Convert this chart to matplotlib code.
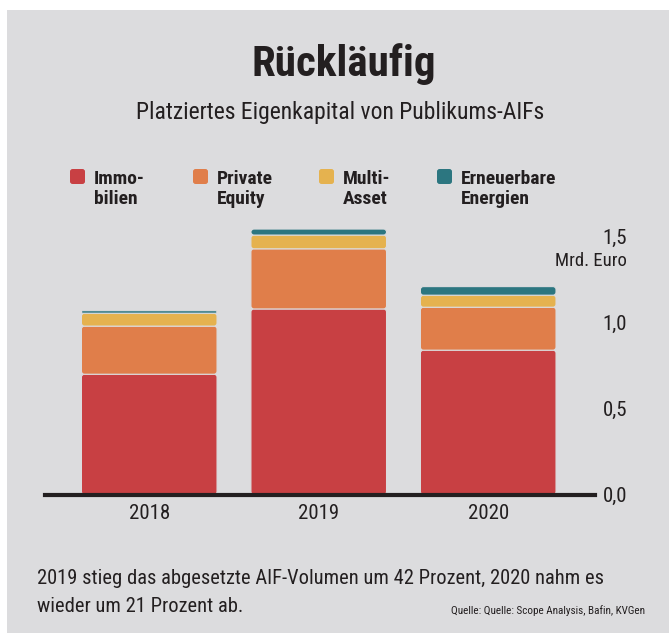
import matplotlib.pyplot as plt
from matplotlib.patches import Rectangle, FancyBboxPatch
import numpy as np

# data (Mrd. Euro)
years = ["2018", "2019", "2020"]
immobilien = [0.70, 1.08, 0.84]
private_equity = [0.28, 0.35, 0.25]
multi_asset = [0.075, 0.08, 0.07]
erneuerbare = [0.015, 0.035, 0.05]

series_names = ["Immo-\nbilien", "Private\nEquity", "Multi-\nAsset", "Erneuerbare\nEnergien"]
series_colors = ["#C84043", "#E07E4A", "#E5B24F", "#2C7680"]
yticks = [0.0, 0.5, 1.0, 1.5]
ytick_labels = ["0,0", "0,5", "1,0", "1,5"]

BG = "#DCDCDE"
TXT = "#231F20"
W, H = 669, 634

plt.rcParams['font.family'] = ['Roboto Condensed', 'Liberation Sans Narrow',
                               'DejaVu Sans Condensed', 'Roboto', 'DejaVu Sans']
plt.rcParams['font.stretch'] = 'condensed'


def fx(px):
    return px / W


def fy(py):
    return 1 - py / H


def round_bars(ax, bars, aspect, r):
    # swap the plain rectangles for slightly rounded ones
    for rect in bars:
        x0, y0 = rect.get_x(), rect.get_y()
        w, h = rect.get_width(), rect.get_height()
        rs = min(r, h / aspect / 2)
        p = FancyBboxPatch((x0, y0), w, h,
                           boxstyle="round,pad=0,rounding_size=%f" % rs,
                           mutation_aspect=aspect,
                           facecolor=rect.get_facecolor(), edgecolor=BG,
                           linewidth=0.8, zorder=2)
        ax.add_patch(p)
        rect.remove()


def main():
    fig = plt.figure(figsize=(6.69, 6.34), dpi=100, facecolor="white")

    # gray panel
    fig.patches.append(Rectangle((fx(7), fy(633)), fx(669 - 7), (633 - 10) / H,
                                 transform=fig.transFigure, facecolor=BG,
                                 edgecolor="none", zorder=-10))

    fig.text(fx(344), fy(64), "Rückläufig", ha="center", va="center",
             fontsize=31, fontweight="bold", color=TXT)
    fig.text(fx(340), fy(113), "Platziertes Eigenkapital von Publikums-AIFs",
             ha="center", va="center", fontsize=17, color=TXT)

    # legend
    sq_x = [70, 193, 319, 437]
    for x0, name, col in zip(sq_x, series_names, series_colors):
        fig.patches.append(FancyBboxPatch((fx(x0), fy(184)), fx(15), 15 / H,
                                          boxstyle="round,pad=0,rounding_size=0.004",
                                          transform=fig.transFigure, facecolor=col,
                                          edgecolor="none", zorder=2))
        fig.text(fx(x0 + 24), fy(189), name, ha="left", va="center",
                 fontsize=14, fontweight="bold", color=TXT, linespacing=1.1)

    # bars
    ax = fig.add_axes([fx(45), fy(494.5), fx(595 - 45), 274.9 / H])
    ax.set_facecolor("none")
    ax.set_xlim(-0.615, 2.63)
    ax.set_ylim(0, 1.6)
    x = np.arange(len(years))
    bottom = np.zeros(len(years))
    px_x = fx(595 - 45) * W / (2.63 + 0.615)
    px_y = 274.9 / 1.6
    aspect = px_x / px_y
    for vals, col in zip([immobilien, private_equity, multi_asset, erneuerbare], series_colors):
        bars = ax.bar(x, vals, width=0.8, bottom=bottom, color=col, zorder=2)
        round_bars(ax, bars, aspect, 3.0 / px_x)
        bottom += np.array(vals)

    for s in ["top", "left", "right"]:
        ax.spines[s].set_visible(False)
    ax.spines["bottom"].set_linewidth(3)
    ax.spines["bottom"].set_color(TXT)
    ax.spines["bottom"].set_zorder(3)

    ax.set_xticks(x)
    ax.set_xticklabels(years, fontsize=15, color=TXT)
    ax.tick_params(axis="x", length=0, pad=7)

    ax.yaxis.tick_right()
    ax.set_yticks(yticks)
    ax.set_yticklabels(ytick_labels, fontsize=15, color=TXT)
    ax.tick_params(axis="y", length=0, pad=23)
    for lab in ax.get_yticklabels():
        lab.set_horizontalalignment("right")

    fig.text(fx(627), fy(261), "Mrd. Euro", ha="right", va="center",
             fontsize=13.5, color=TXT)

    # footer
    fig.text(fx(37), fy(578), "2019 stieg das abgesetzte AIF-Volumen um 42 Prozent, 2020 nahm es",
             ha="left", va="center", fontsize=14.8, color=TXT)
    fig.text(fx(37), fy(607), "wieder um 21 Prozent ab.",
             ha="left", va="center", fontsize=14.8, color=TXT)
    fig.text(fx(645), fy(611), "Quelle: Quelle: Scope Analysis, Bafin, KVGen",
             ha="right", va="center", fontsize=8, color=TXT)

    fig.savefig("out.png", dpi=100, facecolor="white")


if __name__ == "__main__":
    main()
